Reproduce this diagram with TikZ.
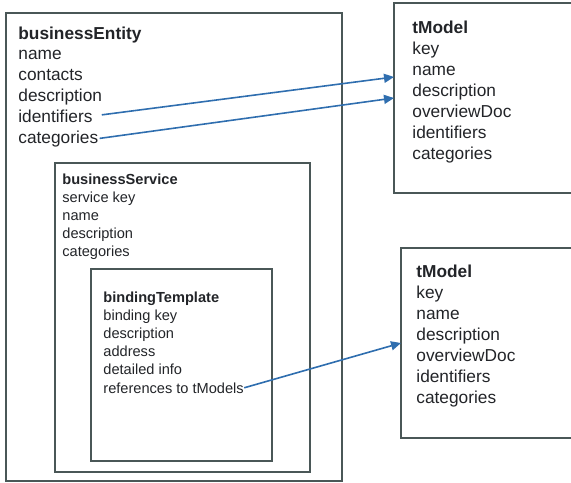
\documentclass[tikz,border=0pt]{standalone}
\usepackage{fontspec}
\setmainfont{Liberation Sans}
\usetikzlibrary{arrows.meta}
\definecolor{boxline}{HTML}{4A5757}
\definecolor{linkblue}{HTML}{2F6EAF}
\definecolor{ink}{HTML}{222428}

\begin{document}
\begin{tikzpicture}[x=0.5pt,y=-0.5pt,
  box/.style={draw=boxline,line width=1pt,anchor=north west,inner sep=0pt,outer sep=0pt},
  bigtxt/.style={anchor=base west,inner sep=0pt,text=ink,font=\fontsize{8.65}{10}\selectfont},
  smalltxt/.style={anchor=base west,inner sep=0pt,text=ink,font=\fontsize{7.3}{9}\selectfont},
  link/.style={linkblue,line width=0.8pt,-{Triangle[length=5pt,width=4.5pt]}}]
\useasboundingbox (0,0) rectangle (571,482);

% boxes
\node[box,minimum width=168pt,minimum height=234pt] (entity) at (6,13) {};
\node[box,minimum width=127.5pt,minimum height=154.5pt] (service) at (55,163) {};
\node[box,minimum width=90.5pt,minimum height=96pt] (binding) at (91,269) {};
\node[box,minimum width=93pt,minimum height=95pt] (tm1) at (394,3) {};
\node[box,minimum width=89.5pt,minimum height=95pt] (tm2) at (401,248) {};

% businessEntity
\node[bigtxt] (be0) at (18,39) {\bfseries businessEntity};
\foreach \t [count=\i] in {name,contacts,description,identifiers,categories}
  \node[bigtxt] (be\i) at (18,{39+20.8*\i}) {\t};

% businessService
\node[smalltxt] (bs0) at (62,184) {\bfseries businessService};
\foreach \t [count=\i] in {service key,name,description,categories}
  \node[smalltxt] (bs\i) at (62,{184+18*\i}) {\t};

% bindingTemplate
\node[smalltxt] (bt0) at (103,302) {\bfseries bindingTemplate};
\foreach \t [count=\i] in {binding key,description,address,detailed info,references to tModels}
  \node[smalltxt] (bt\i) at (103,{302+18.2*\i}) {\t};

% tModels
\node[bigtxt] (ta0) at (412,33) {\bfseries tModel};
\foreach \t [count=\i] in {key,name,description,overviewDoc,identifiers,categories}
  \node[bigtxt] (ta\i) at (412,{33+21*\i}) {\t};
\node[bigtxt] (tb0) at (416,277) {\bfseries tModel};
\foreach \t [count=\i] in {key,name,description,overviewDoc,identifiers,categories}
  \node[bigtxt] (tb\i) at (416,{277+21*\i}) {\t};

% links
\draw[link,shorten <=4.5pt] (be4.east) -- ([yshift=-37pt]tm1.north west);
\draw[link,shorten <=0.5pt] (be5.east) -- ([yshift=-47.5pt]tm1.north west);
\draw[link] (bt5.east) -- ([yshift=-47.5pt]tm2.north west);
\end{tikzpicture}
\end{document}
